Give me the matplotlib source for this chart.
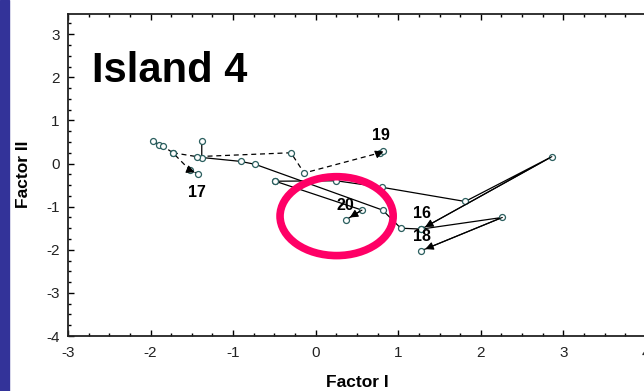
import matplotlib
matplotlib.use('Agg')
import matplotlib.pyplot as plt
from matplotlib.patches import Ellipse, Rectangle

plt.rcParams['axes.unicode_minus'] = False

# Trajectories of each island in factor space (Factor I, Factor II)
isl16_x = [-0.49, 0.25, 0.80, 1.81, 2.86, 1.28]
isl16_y = [-0.41, -0.40, -0.55, -0.88, 0.16, -1.52]

isl17_x = [-1.97, -1.90, -1.855, -1.73, -1.52, -1.42]
isl17_y = [0.52, 0.44, 0.41, 0.25, -0.16, -0.24]

isl18_x = [-1.38, -1.38, -0.91, -0.73, 0.81, 1.03, 1.28, 2.26, 1.28]
isl18_y = [0.52, 0.14, 0.05, -0.02, -1.08, -1.50, -1.52, -1.25, -2.02]

isl19_x = [-1.73, -1.44, -0.30, -0.14, 0.78, 0.82]
isl19_y = [0.25, 0.16, 0.25, -0.22, 0.25, 0.28]

isl20_x = [-0.49, 0.56, 0.37]
isl20_y = [-0.41, -1.08, -1.30]

series = [
    ('16', isl16_x, isl16_y, '-', (1.285, -1.17)),
    ('17', isl17_x, isl17_y, '--', (-1.44, -0.67)),
    ('18', isl18_x, isl18_y, '-', (1.285, -1.70)),
    ('19', isl19_x, isl19_y, '--', (0.79, 0.64)),
    ('20', isl20_x, isl20_y, '-', (0.36, -0.98)),
]

font = ['Liberation Sans', 'DejaVu Sans']

fig = plt.figure(figsize=(6.44, 3.91), dpi=100)
fig.patches.append(Rectangle((0, 0), 9 / 644, 1, transform=fig.transFigure,
                             color='#333399', zorder=0))
ax = fig.add_axes([68 / 644, 55 / 391, 578 / 644, 322.5 / 391])

for name, xs, ys, ls, lab in series:
    ax.plot(xs, ys, color='black', linestyle=ls, linewidth=0.9,
            dashes=(4, 3) if ls == '--' else (None, None), zorder=2)
    ax.plot(xs, ys, linestyle='none', marker='o', markersize=4.3,
            markerfacecolor='white', markeredgecolor='#2a5e5e',
            markeredgewidth=0.9, zorder=3)
    ax.annotate('', xy=(xs[-1], ys[-1]), xytext=(xs[-2], ys[-2]),
                arrowprops=dict(arrowstyle='-|>', color='black', lw=0.8,
                                mutation_scale=12, shrinkA=0, shrinkB=3),
                zorder=4)
    ax.text(lab[0], lab[1], name, fontsize=11.5, fontweight='bold',
            family=font, ha='center', va='center', zorder=5)

# highlight ring
ax.add_patch(Ellipse((0.253, -1.22), 1.37, 1.83, fill=False,
                     edgecolor='#ff0066', linewidth=5.5, zorder=6))

ax.text(-2.71, 1.88, 'Island 4', fontsize=30, fontweight='bold',
        family=font, ha='left', va='baseline')

ax.set_xlim(-3, 4)
ax.set_ylim(-4, 3.48)
ax.set_xticks(range(-3, 5))
ax.set_yticks(range(-4, 4))
ax.set_xticks([i / 4 for i in range(-12, 17)], minor=True)
ax.set_yticks([i / 4 for i in range(-16, 14)], minor=True)
ax.tick_params(which='both', direction='in', top=True, right=False,
               width=1.0, color='black')
ax.tick_params(which='major', length=4, labelsize=11)
ax.tick_params(axis='x', which='major', pad=7)
ax.tick_params(axis='y', which='major', pad=6)
ax.tick_params(which='minor', length=2)
for lbl in ax.get_xticklabels() + ax.get_yticklabels():
    lbl.set_family(font)
    lbl.set_color('#222222')

for sp in ['left', 'bottom', 'top']:
    ax.spines[sp].set_linewidth(1.3)
    ax.spines[sp].set_color('#222222')

ax.set_xlabel('Factor I', fontsize=12.5, fontweight='bold', family=font,
              labelpad=11)
ax.set_ylabel('Factor II', fontsize=12.5, fontweight='bold', family=font,
              labelpad=11)

fig.savefig('out.png', dpi=100)
